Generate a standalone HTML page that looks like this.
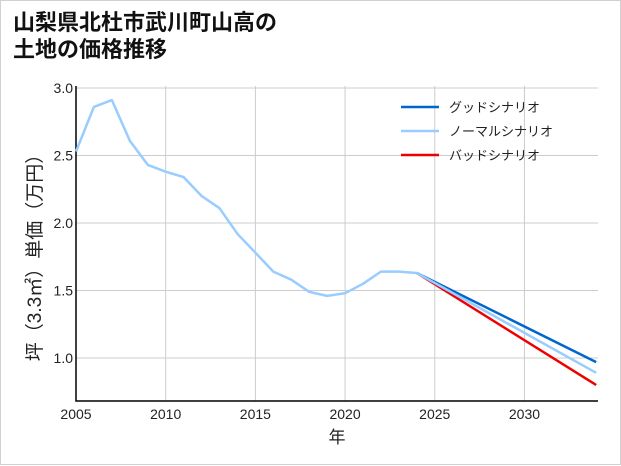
<!DOCTYPE html>
<html><head><meta charset="utf-8"><style>
body{margin:0;background:#fff;}
#wrap{position:relative;width:619px;height:463px;border:1px solid #d0d0d0;background:#fff;font-family:"Liberation Sans","Noto Sans CJK JP",sans-serif;}
#title{position:absolute;left:12px;top:8px;font-size:22px;font-weight:bold;line-height:27px;color:#111;}
svg{position:absolute;left:0;top:0;}
</style></head><body>
<div id="wrap">
<div id="title">山梨県北杜市武川町山高の<br>土地の価格推移</div>
<svg id="chart" width="621" height="465"></svg>
</div>
<script>
const years=[2005,2006,2007,2008,2009,2010,2011,2012,2013,2014,2015,2016,2017,2018,2019,2020,2021,2022,2023,2024];
const history=[2.53,2.86,2.91,2.61,2.43,2.38,2.34,2.20,2.11,1.92,1.78,1.64,1.58,1.49,1.46,1.48,1.55,1.64,1.64,1.63];
const projYears=[2024,2034];
const goodVals=[1.63,0.97];
const normalVals=[1.63,0.89];
const badVals=[1.63,0.80];
const xTicks=[2005,2010,2015,2020,2025,2030];
const yTicks=[1.0,1.5,2.0,2.5,3.0];
const yTickLabels=["1.0","1.5","2.0","2.5","3.0"];

const NS="http://www.w3.org/2000/svg";
const svg=document.getElementById('chart');
const L=75,R=597,T=85,B=400;
const x=v=>L+(v-2005)*(R-L)/(2034.1-2005);
const y=v=>87+(3.0-v)*135;
function mk(t,a,p){const e=document.createElementNS(NS,t);for(const k in a)e.setAttribute(k,a[k]);(p||svg).appendChild(e);return e;}
xTicks.forEach(t=>{const l=mk('line',{x1:x(t),x2:x(t),y1:T,y2:B,stroke:'#cccccc','stroke-width':1});


const tx=mk('text',{x:x(t),y:B+18,'text-anchor':'middle','font-size':14,fill:'#222'});tx.textContent=t;

});
yTicks.forEach((t,i)=>{const l=mk('line',{x1:L,x2:R,y1:y(t),y2:y(t),stroke:'#cccccc','stroke-width':1});


const tx=mk('text',{x:L-3,y:y(t)+5,'text-anchor':'end','font-size':14,fill:'#222'});tx.textContent=yTickLabels[i];

});
const ax=mk('path',{d:`M${L},${T} V${B} H${R}`,fill:'none',stroke:'#000','stroke-width':1.5});


function line(xs,vs,c,name){const d=xs.map((t,i)=>(i?'L':'M')+x(t).toFixed(1)+','+y(vs[i]).toFixed(1)).join(' ');
const p=mk('path',{d,fill:'none',stroke:c,'stroke-width':2.5,'stroke-linejoin':'round'});

}
line(projYears,goodVals,'#0066cc','good-scenario-line');
line(projYears,badVals,'#ee0000','bad-scenario-line');
line(projYears,normalVals,'#99ccff','normal-scenario-line');
line(years,history,'#99ccff','history-line');
const leg=[['グッドシナリオ','#0066cc'],['ノーマルシナリオ','#99ccff'],['バッドシナリオ','#ee0000']];
leg.forEach((e,i)=>{const yy=106+i*24;const l=mk('line',{x1:400,x2:438,y1:yy,y2:yy,stroke:e[1],'stroke-width':2.5});


const t=mk('text',{x:448,y:yy+5,'font-size':13,fill:'#222'});t.textContent=e[0];

});
const xt=mk('text',{x:336,y:442,'text-anchor':'middle','font-size':17,fill:'#222'});xt.textContent='年';


const yt=mk('text',{x:0,y:0,'text-anchor':'middle','font-size':19,fill:'#222',transform:'translate(40,252) rotate(-90)'});yt.textContent='坪（3.3㎡）単価（万円）';


</script>
</body></html>
